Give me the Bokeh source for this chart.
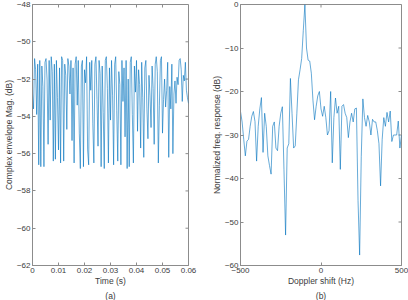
import math
from bokeh.plotting import figure
from bokeh.layouts import row
from bokeh.models import FixedTicker, Range1d, Title
from bokeh.embed import file_html
from bokeh.resources import INLINE

# ---- data: (a) complex envelope magnitude (dB) sampled every 0.4 ms ----
time_step_s = 0.0004
envelope_db = [
    -52.8, -53.6, -50.9, -51.5, -53.9, -51.2, -56.6, -51.0, -56.7, -51.3,
    -52.4, -56.7, -51.1, -50.9, -52.0, -55.5, -51.0, -54.2, -50.8, -51.6,
    -56.4, -51.2, -56.3, -51.0, -53.0, -55.8, -51.4, -56.5, -50.8, -51.0,
    -56.4, -51.2, -51.8, -54.7, -50.9, -51.3, -52.8, -51.0, -55.3, -51.4,
    -56.5, -51.2, -50.8, -53.4, -51.0, -54.9, -56.8, -51.3, -51.0, -56.7,
    -51.5, -52.2, -50.8, -55.8, -56.6, -51.1, -52.6, -51.0, -54.4, -56.5,
    -51.2, -50.8, -53.1, -55.6, -51.0, -51.7, -56.7, -51.3, -53.8, -56.8,
    -51.0, -50.8, -52.5, -56.5, -51.4, -54.2, -51.0, -52.9, -56.6, -51.2,
    -50.8, -53.7, -56.4, -51.6, -52.3, -56.6, -51.0, -53.2, -51.4, -55.1,
    -51.0, -56.8, -52.0, -56.7, -51.1, -50.8, -53.9, -56.5, -51.3, -52.7,
    -51.0, -54.8, -51.5, -52.3, -55.7, -51.1, -53.0, -56.2, -51.4, -51.0,
    -53.6, -55.2, -51.8, -52.9, -54.6, -51.3, -52.5, -55.5, -51.2, -50.8,
    -51.6, -56.5, -53.4, -51.0, -50.8, -54.9, -53.1, -52.0, -53.5, -52.6,
    -51.1, -56.2, -52.4, -53.6, -51.2, -56.0, -52.8, -52.1, -53.3, -51.9,
    -52.3, -51.0, -50.9, -51.5, -53.2, -51.8, -52.1, -51.1, -52.6, -53.0,
    -53.3,
]
time_s = [i * time_step_s for i in range(len(envelope_db))]

# ---- data: (b) normalized frequency response (dB) vs Doppler shift ----
doppler_hz = list(range(-500, 510, 10))
response_db = [
    -24.6, -27.0, -31.0, -34.8, -31.4, -31.0, -28.0, -25.7, -24.6, -26.9,
    -36.0, -28.0, -24.0, -21.4, -34.0, -25.0, -28.0, -34.8, -37.0, -39.0,
    -28.0, -27.0, -33.0, -33.6, -28.0, -25.0, -23.5, -38.0, -53.0, -33.0,
    -32.0, -17.0, -25.0, -33.0, -32.5, -25.0, -17.3, -15.0, -12.4, -6.0,
    0.0, -10.0, -12.8, -13.0, -15.8, -22.0, -26.5, -23.4, -21.0, -20.0,
    -24.0, -25.7, -23.4, -26.0, -30.0, -29.0, -20.0, -36.4, -26.0, -21.5,
    -25.0, -23.4, -37.9, -23.4, -23.0, -25.0, -26.0, -30.6, -27.0, -25.0,
    -27.0, -24.0, -23.8, -45.0, -57.6, -35.0, -21.7, -26.0, -28.0, -25.5,
    -27.0, -30.0, -26.4, -27.0, -27.0, -29.0, -32.0, -41.7, -31.0, -26.0,
    -28.0, -24.8, -27.0, -24.5, -31.5, -30.0, -30.0, -30.0, -26.8, -33.0,
    -30.0,
]

x_ticks_a = [0, 0.01, 0.02, 0.03, 0.04, 0.05, 0.06]
y_ticks_a = [-62, -60, -58, -56, -54, -52, -50, -48]
x_ticks_b = [-500, 0, 500]
y_ticks_b = [-60, -50, -40, -30, -20, -10, 0]

LINE = "#0072BD"
AXC = "#8c8c8c"
TXT = "#3c3c3c"
FONT = "Liberation Sans"


def style_axis(ax):
    ax.axis_line_color = AXC
    ax.major_tick_line_color = AXC
    ax.minor_tick_line_color = None
    ax.major_tick_in = 3
    ax.major_tick_out = 0
    ax.major_label_text_font = FONT
    ax.major_label_text_color = TXT
    ax.major_label_text_font_size = "8px"
    ax.major_label_standoff = 2
    ax.axis_label_text_font = FONT
    ax.axis_label_text_font_style = "normal"
    ax.axis_label_text_font_size = "8.5px"
    ax.axis_label_text_color = TXT
    ax.axis_label_standoff = 0


def make_fig(xr, yr, xt, yt, xlabel, ylabel, sub, w, bl, br):
    p = figure(width=w, height=300, output_backend="svg", toolbar_location=None,
               x_range=Range1d(*xr), y_range=Range1d(*yr),
               min_border_left=bl, min_border_right=br,
               min_border_top=4, min_border_bottom=0)
    p.xgrid.visible = False
    p.ygrid.visible = False
    p.outline_line_color = AXC
    p.xaxis.ticker = FixedTicker(ticks=xt)
    p.yaxis.ticker = FixedTicker(ticks=yt)
    p.xaxis.axis_label = xlabel
    p.yaxis.axis_label = ylabel
    for ax in p.xaxis + p.yaxis:
        style_axis(ax)
    # MATLAB-style box ticks on the top and right edges
    p.ray(x=xt, y=[yr[1]] * len(xt), length=3, length_units="screen",
          angle=-math.pi / 2, line_color=AXC, line_width=1)
    p.ray(x=[xr[1]] * len(yt), y=yt, length=3, length_units="screen",
          angle=math.pi, line_color=AXC, line_width=1)
    p.add_layout(Title(text=sub, align="center", text_font=FONT,
                       text_font_size="8.5px", text_font_style="normal",
                       text_color=TXT, offset=0, standoff=0), "below")
    return p


p1 = make_fig((0, 0.06), (-62, -48), x_ticks_a, y_ticks_a,
              "Time (s)", "Complex envelope Mag. (dB)", "(a)", 204, 28, 16)
p1.line(time_s, envelope_db, line_color=LINE, line_width=0.6)

p2 = make_fig((-500, 500), (-60, 0), x_ticks_b, y_ticks_b,
              "Doppler shift (Hz)", "Normalized freq. response (dB)", "(b)", 204, 36, 7)
p2.line(doppler_hz, response_db, line_color=LINE, line_width=0.6)

layout = row(p1, p2)
open("out.html", "w").write(file_html(layout, INLINE))
